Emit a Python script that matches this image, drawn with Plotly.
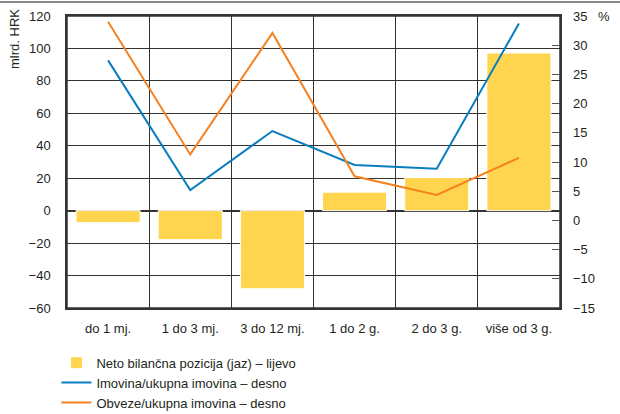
import plotly.graph_objects as go

categories = ["do 1 mj.", "1 do 3 mj.", "3 do 12 mj.", "1 do 2 g.", "2 do 3 g.", "više od 3 g."]
gap = [-7.4, -17.9, -48.1, 11.4, 20.4, 97.2]
assets_share = [27.4, 5.2, 15.3, 9.5, 8.85, 33.7]
liab_share = [34.0, 11.3, 32.1, 7.55, 4.35, 10.7]

left_ticks = list(range(-60, 121, 20))
right_ticks = list(range(-15, 36, 5))

FONT = "Liberation Sans, Arial, sans-serif"
GRID = "#333333"

fig = go.Figure()
fig.add_trace(go.Bar(
    x=categories, y=gap, name="Neto bilančna pozicija (jaz) – lijevo",
    marker=dict(color="#FFD54F", line=dict(color="white", width=1)),
    width=0.78, yaxis="y",
))
fig.add_trace(go.Scatter(
    x=categories, y=assets_share, name="Imovina/ukupna imovina – desno",
    mode="lines", line=dict(color="#0A7DC0", width=2), yaxis="y2",
))
fig.add_trace(go.Scatter(
    x=categories, y=liab_share, name="Obveze/ukupna imovina – desno",
    mode="lines", line=dict(color="#F58220", width=2), yaxis="y2",
))

fig.update_layout(
    width=620, height=414,
    margin=dict(l=67, r=60, t=16, b=106, autoexpand=False),
    paper_bgcolor="white", plot_bgcolor="white",
    font=dict(family=FONT, size=13, color="#231f20"),
    showlegend=True,
    hovermode=False,
    legend=dict(
        xref="container", yref="container",
        x=0.091, y=0.16, xanchor="left", yanchor="top",
        orientation="v", font=dict(size=13), tracegroupgap=0,
        bgcolor="rgba(0,0,0,0)",
    ),
    xaxis=dict(
        type="category", tickson="boundaries", showgrid=True,
        gridcolor=GRID, gridwidth=1, ticks="", showline=True,
        linecolor=GRID, linewidth=1.5, mirror=True, zeroline=False,
        tickangle=0, automargin=False, ticklabelstandoff=8,
    ),
    yaxis=dict(
        range=[-60, 120], tickvals=left_ticks,
        ticktext=[f"−{-v}" if v < 0 else str(v) for v in left_ticks],
        showgrid=True, gridcolor=GRID, gridwidth=1, zeroline=True,
        zerolinecolor=GRID, zerolinewidth=1.5, showline=True, mirror=True,
        linecolor=GRID, linewidth=1.5, ticks="", ticklabelstandoff=12,
        automargin=False,
    ),
    yaxis2=dict(
        range=[-15, 35], tickvals=right_ticks,
        ticktext=[f"−{-v}" if v < 0 else str(v) for v in right_ticks],
        overlaying="y", side="right", showgrid=False, zeroline=False,
        ticks="inside", ticklen=8, tickcolor="#555", tickwidth=1,
        showline=False, ticklabelstandoff=12, automargin=False,
    ),
    bargap=0.22,
)

# plot frame and the thin rule across the top of the page
fig.add_shape(type="rect", xref="paper", yref="paper",
              x0=0, x1=1, y0=0, y1=1, line=dict(color=GRID, width=1.5),
              layer="below")
fig.add_shape(type="line", xref="paper", yref="paper",
              x0=-0.14, x1=1.13, y0=1.048, y1=1.048,
              line=dict(color="#8c8c8c", width=2))
fig.add_annotation(text="mlrd. HRK", xref="paper", yref="paper",
                   x=-0.108, y=1.03, xanchor="center", yanchor="top",
                   textangle=-90, showarrow=False, font=dict(size=13))
fig.add_annotation(text="%", xref="paper", yref="paper",
                   x=1.09, y=0.997, xanchor="center", yanchor="middle",
                   showarrow=False, font=dict(size=13))

# the page gets the browser's default body margin; drop it so the chart sits at 0,0
fig.write_html("out.html", config={"displayModeBar": False},
               post_script="document.body.style.margin='0';")
